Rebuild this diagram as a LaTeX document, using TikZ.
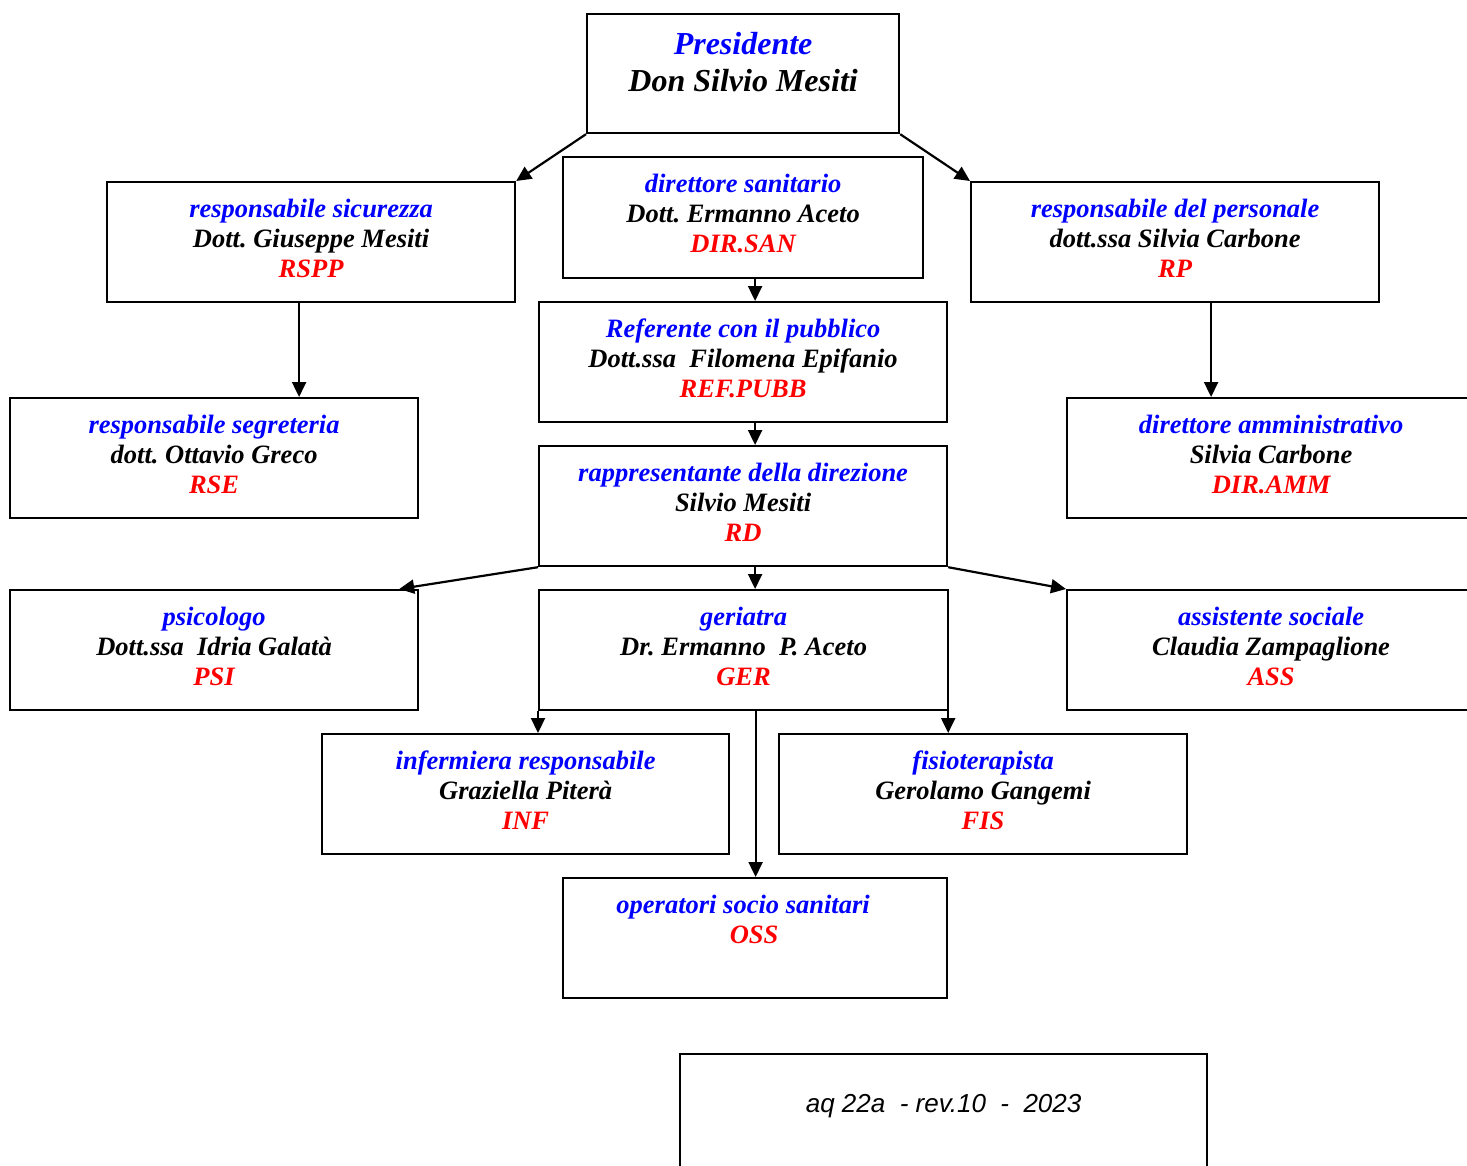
\documentclass[tikz,border=0pt]{standalone}
\usepackage{fontspec}
\setmainfont{Liberation Serif}
\newfontfamily\arialfont{Liberation Sans}
\usetikzlibrary{arrows.meta}
\definecolor{tblue}{RGB}{0,0,255}
\definecolor{tred}{RGB}{255,0,0}
\frenchspacing
\newcommand{\bluetxt}[1]{\textcolor{tblue}{#1}}
\newcommand{\redtxt}[1]{\textcolor{tred}{#1}}
\newcommand{\boxlines}[3]{\parbox[t]{400pt}{\centering\bluetxt{#1}\\#2\\\redtxt{#3}}}
\begin{document}
\begin{tikzpicture}[x=1pt,y=-1pt,
  box/.style={draw, line width=2.2pt, inner sep=0pt, minimum width=408pt, minimum height=120pt, anchor=north west},
  txt/.style={inner sep=0pt, anchor=base, font=\fontsize{26.5}{30}\selectfont\bfseries\itshape},
  arr/.style={line width=2.2pt, -{Triangle[length=15pt,width=14pt]}}]
\clip (0,0) rectangle (1467,1165);
\fill[white] (0,0) rectangle (1467,1165);

% boxes
\node[box, minimum width=312pt, minimum height=119pt] (pres) at (586,13) {};
\node[box] (rspp) at (106,181) {};
\node[box, minimum width=360pt, minimum height=121pt] (dsan) at (562,156) {};
\node[box] (rp) at (970,181) {};
\node[box] (refp) at (538,301) {};
\node[box] (rse) at (9,397) {};
\node[box] (damm) at (1066,397) {};
\node[box] (rd) at (538,445) {};
\node[box] (psi) at (9,589) {};
\node[box, minimum width=409pt] (ger) at (538,589) {};
\node[box] (ass) at (1066,589) {};
\node[box, minimum width=407pt] (inf) at (321,733) {};
\node[box] (fis) at (778,733) {};
\node[box, minimum width=384pt] (oss) at (562,877) {};
\node[box, minimum width=527pt, minimum height=135pt] (foot) at (679,1053) {};

% texts
\node[txt, font=\fontsize{32}{37}\selectfont\bfseries\itshape] (pres-t) at ([yshift=-41pt]pres.north)
  {\parbox[t]{300pt}{\centering\bluetxt{Presidente}\\Don Silvio Mesiti}};
\node[txt] (rspp-t) at ([yshift=-36pt]rspp.north) {\boxlines{responsabile sicurezza}{Dott. Giuseppe Mesiti}{RSPP}};
\node[txt] (dsan-t) at ([yshift=-36pt]dsan.north) {\boxlines{direttore sanitario}{Dott. Ermanno Aceto}{DIR.SAN}};
\node[txt] (rp-t) at ([yshift=-36pt]rp.north) {\boxlines{responsabile del personale}{dott.ssa Silvia Carbone}{RP}};
\node[txt] (refp-t) at ([yshift=-36pt]refp.north) {\boxlines{Referente con il pubblico}{Dott.ssa\ \ Filomena Epifanio}{REF.PUBB}};
\node[txt] (rse-t) at ([yshift=-36pt]rse.north) {\boxlines{responsabile segreteria}{dott. Ottavio Greco}{RSE}};
\node[txt] (damm-t) at ([yshift=-36pt]damm.north) {\boxlines{direttore amministrativo}{Silvia Carbone}{DIR.AMM}};
\node[txt] (rd-t) at ([yshift=-36pt]rd.north) {\boxlines{rappresentante della direzione}{Silvio Mesiti}{RD}};
\node[txt] (psi-t) at ([yshift=-36pt]psi.north) {\boxlines{psicologo}{Dott.ssa\ \ Idria Galatà}{PSI}};
\node[txt] (ger-t) at ([yshift=-36pt]ger.north) {\boxlines{geriatra}{Dr. Ermanno\ \ P. Aceto}{GER}};
\node[txt] (ass-t) at ([yshift=-36pt]ass.north) {\boxlines{assistente sociale}{Claudia Zampaglione}{ASS}};
\node[txt] (inf-t) at ([yshift=-36pt]inf.north) {\boxlines{infermiera responsabile}{Graziella Piterà}{INF}};
\node[txt] (fis-t) at ([yshift=-36pt]fis.north) {\boxlines{fisioterapista}{Gerolamo Gangemi}{FIS}};
\node[txt] (oss-t) at ([xshift=-12pt,yshift=-36pt]oss.north)
  {\parbox[t]{380pt}{\centering\bluetxt{operatori socio sanitari}\\\hspace*{22pt}\redtxt{OSS}}};
\node[inner sep=0pt, anchor=base, font=\arialfont\fontsize{26}{30}\selectfont\itshape] (foot-t)
  at ([yshift=-59pt]foot.north) {aq 22a\ \ - rev.10\ \ -\ \ 2023};

% connectors
\draw[arr] (pres.south west) -- (rspp.north east);
\draw[arr] (pres.south east) -- (rp.north west);
\draw[arr] ([xshift=12pt]dsan.south) -- ([xshift=12pt]dsan.south |- refp.north);
\draw[arr] ([xshift=12pt]refp.south) -- ([xshift=12pt]refp.south |- rd.north);
\draw[arr] ([xshift=-12pt]rspp.south) -- ([xshift=-12pt]rspp.south |- rse.north);
\draw[arr] ([xshift=36pt]rp.south) -- ([xshift=36pt]rp.south |- damm.north);
\draw[arr] (rd.south west) -- ([xshift=-20pt]psi.north east);
\draw[arr] ([xshift=12pt]rd.south) -- ([xshift=12pt]rd.south |- ger.north);
\draw[arr] (rd.south east) -- (ass.north west);
\draw[arr] (ger.south west) -- (ger.south west |- inf.north);
\draw[arr] ([xshift=-1pt]ger.south east) -- ([xshift=-1pt]ger.south east |- fis.north);
\draw[arr] ([xshift=12pt]ger.south) -- ([xshift=12pt]ger.south |- oss.north);
\end{tikzpicture}
\end{document}
